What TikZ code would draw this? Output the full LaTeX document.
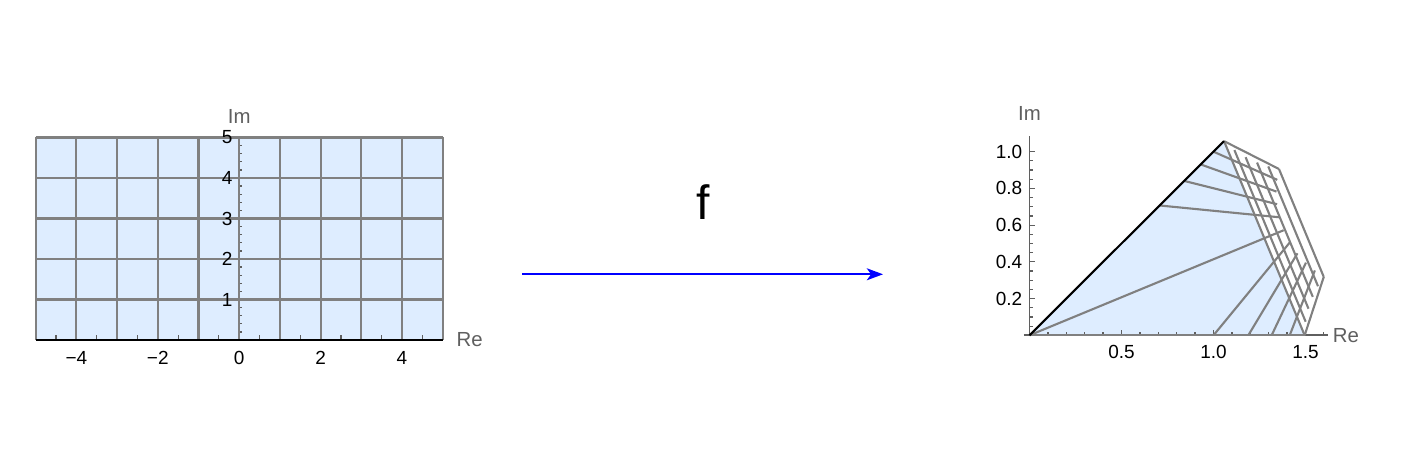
\documentclass[tikz,border=0pt]{standalone}
\usepackage{fontspec}
\setmainfont{Liberation Sans}
\usetikzlibrary{arrows.meta}
\definecolor{planefill}{RGB}{222,237,255}
\definecolor{meshgray}{RGB}{128,128,128}
\definecolor{axisgray}{RGB}{95,95,95}
\tikzset{
  mesh/.style={meshgray,line width=0.6pt,line join=round},
  axisline/.style={axisgray,line width=0.5pt},
  tickmark/.style={axisgray,line width=0.35pt},
  ticklabel/.style={inner sep=0pt,font=\fontsize{5.4}{6}\selectfont},
  axislabel/.style={inner sep=0pt,text=axisgray,font=\fontsize{5.8}{7}\selectfont},
}

\begin{document}
\begin{tikzpicture}
\useasboundingbox (0,0) rectangle (14.05,4.56);

% the strip -5<Re<5, 0<Im<5
\begin{scope}[shift={(2.392,1.16)},x=0.407cm,y=0.405cm]
\fill[planefill] (-5,0) rectangle (5,5);
\draw[axisline] (0,0) -- (0,5);
\foreach \x in {-4.5,-3.5,...,4.5} { \draw[tickmark] (\x,0) -- (\x,0.12); }
\foreach \y in {0.2,0.4,...,4.8} { \draw[tickmark] (0,\y) -- (0.07,\y); }
\foreach \x in {-5,...,5} { \draw[mesh] (\x,0) -- (\x,5); }
\foreach \y in {1,...,5} { \draw[mesh] (-5,\y) -- (5,\y); }
\draw[black,line width=0.6pt] (-5,0) -- (5,0);
\foreach \x/\t in {-4/−4,-2/−2,0/0,2/2,4/4} { \node[ticklabel,anchor=base] (sx\x) at (\x,-0.614) {\t}; }
\foreach \y in {1,...,5} { \node[ticklabel,anchor=east] (sy\y) at (-0.15,\y) {\y}; }
\node[axislabel] (simlabel) at (0,5.53) {Im};
\node[axislabel] (srelabel) at (5.66,0.02) {Re};
\end{scope}

% the map
\coordinate (arrowtail) at (5.22,1.817);
\coordinate (arrowhead) at (8.83,1.817);
\draw[blue,line width=0.55pt,-{Stealth[length=4.6pt,width=3.4pt,inset=1.2pt]}] (arrowtail) -- (arrowhead);
\node[font=\fontsize{13.7}{16}\selectfont,inner sep=0pt] (fname) at (7.027,2.543) {f};

% images of the ends of each grid line under z^(1/4), joined straight
\begin{scope}[shift={(10.295,1.207)},x=1.84cm,y=1.836cm]
\foreach \a in {-5,...,5} \foreach \b in {0,5} {
  \coordinate (w\a/\b) at ({atan2(\b,\a+0.0001)/4}:{sqrt(sqrt(veclen(\a,\b)))});
}
\foreach \b in {1,...,4} \foreach \a in {-5,5} {
  \coordinate (w\a/\b) at ({atan2(\b,\a)/4}:{sqrt(sqrt(veclen(\a,\b)))});
}
\fill[planefill] (w0/0) -- (w-5/0) -- (w5/0) -- cycle;
\draw[axisline] (-0.03,0) -- (1.62,0);
\draw[axisline] (0,0) -- (0,1.087);
\foreach \x in {0.1,0.2,...,1.6} { \draw[tickmark] (\x,0) -- (\x,0.018); }
\foreach \x in {0.5,1.0,1.5} { \draw[tickmark] (\x,0) -- (\x,0.03); }
\foreach \y in {0.05,0.1,...,1.05} { \draw[tickmark] (0,\y) -- (0.018,\y); }
\foreach \y in {0.2,0.4,0.6,0.8,1.0} { \draw[tickmark] (0,\y) -- (0.03,\y); }
\foreach \a in {-5,...,5} { \draw[mesh] (w\a/0) -- (w\a/5); }
\foreach \b in {0,...,5} { \draw[mesh] (w-5/\b) -- (w5/\b); }
\draw[mesh] (w0/0) -- (w5/0);
\draw[mesh,black] (w0/0) -- (w-5/0);
\foreach \x in {0.5,1.0,1.5} { \node[ticklabel,anchor=base] (wx\x) at (\x,-0.125) {\x}; }
\foreach \y in {0.2,0.4,0.6,0.8,1.0} { \node[ticklabel,anchor=east] (wy\y) at (-0.036,\y) {\y}; }
\node[axislabel] (wimlabel) at (0,1.209) {Im};
\node[axislabel] (wrelabel) at (1.72,0) {Re};
\end{scope}

\end{tikzpicture}
\end{document}
